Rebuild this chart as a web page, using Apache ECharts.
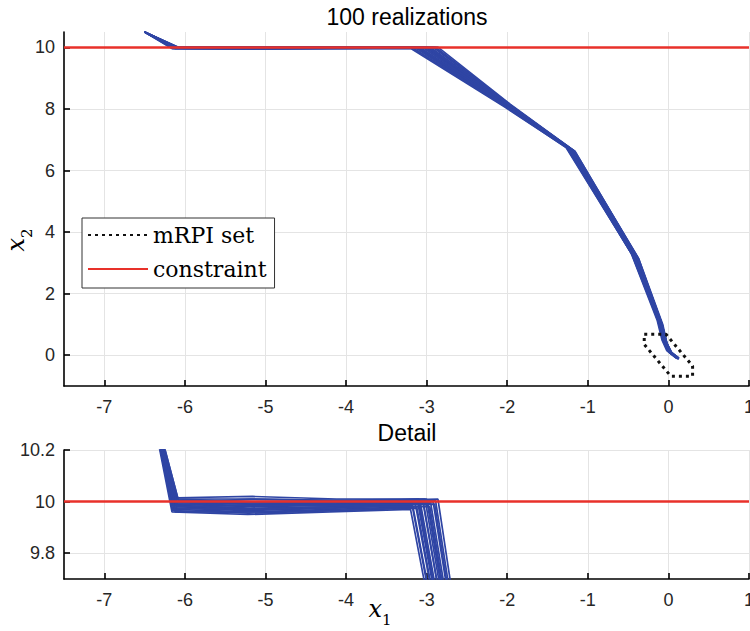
<!DOCTYPE html>
<html>
<head>
<meta charset="utf-8">
<script src="https://cdn.jsdelivr.net/npm/echarts@6/dist/echarts.min.js"></script>
<style>html,body{margin:0;padding:0;background:#fff}#chart{width:750px;height:631px}</style>
</head>
<body>
<div id="chart"></div>
<script>
// ---- data ----
const xTicks = [-7, -6, -5, -4, -3, -2, -1, 0, 1];
const yTicksTop = [0, 2, 4, 6, 8, 10];
const yTicksDetail = [9.8, 10, 10.2];
const constraintX = [-7.5, 1];
const constraintY = [10, 10];
const mrpiX = [-0.3, -0.03, 0.3, 0.3, 0.03, -0.3, -0.3];
const mrpiY = [0.68, 0.68, -0.35, -0.68, -0.68, 0.35, 0.68];
const startPoint = [-6.5, 10.5];
// realizations (vertices after the common start point), [x1, x2]
const run01 = [[-6.16,9.96],[-5.22,9.95],[-4.20,9.96],[-3.20,9.97],[-2.03,8.06],[-1.26,6.74],[-0.45,3.26],[-0.13,1.12],[-0.07,0.48],[-0.01,0.14],[0.09,-0.07]];
const run02 = [[-6.14,9.97],[-5.20,9.96],[-4.18,9.97],[-3.17,9.98],[-2.02,8.08],[-1.24,6.72],[-0.44,3.24],[-0.12,1.10],[-0.06,0.46],[0.00,0.12],[0.10,-0.09]];
const run03 = [[-6.13,9.98],[-5.19,9.97],[-4.16,9.98],[-3.14,9.99],[-2.01,8.09],[-1.23,6.70],[-0.43,3.22],[-0.11,1.08],[-0.05,0.45],[0.01,0.11],[0.11,-0.10]];
const run04 = [[-6.12,9.99],[-5.18,9.98],[-4.15,9.985],[-3.11,9.995],[-2.00,8.10],[-1.22,6.69],[-0.42,3.21],[-0.11,1.07],[-0.05,0.44],[0.01,0.10],[0.11,-0.11]];
const run05 = [[-6.11,10.00],[-5.18,9.99],[-4.14,9.99],[-3.08,10.00],[-2.00,8.11],[-1.21,6.68],[-0.41,3.20],[-0.10,1.06],[-0.04,0.43],[0.02,0.09],[0.12,-0.12]];
const run06 = [[-6.10,10.01],[-5.17,10.00],[-4.13,10.00],[-3.05,10.005],[-1.99,8.12],[-1.20,6.67],[-0.40,3.19],[-0.10,1.05],[-0.04,0.42],[0.02,0.08],[0.12,-0.12]];
const run07 = [[-6.09,10.015],[-5.16,10.02],[-4.12,10.01],[-3.02,10.01],[-1.99,8.12],[-1.19,6.66],[-0.39,3.18],[-0.09,1.04],[-0.03,0.41],[0.03,0.08],[0.13,-0.13]];
const run08 = [[-6.12,9.975],[-5.20,9.965],[-4.14,9.975],[-2.98,9.99],[-1.98,8.13],[-1.19,6.65],[-0.39,3.17],[-0.09,1.03],[-0.03,0.41],[0.03,0.09],[0.12,-0.11]];
const run09 = [[-6.11,9.985],[-5.19,9.975],[-4.13,9.98],[-2.95,9.995],[-1.98,8.14],[-1.18,6.64],[-0.38,3.16],[-0.08,1.02],[-0.03,0.40],[0.03,0.10],[0.12,-0.10]];
const run10 = [[-6.10,9.99],[-5.18,9.985],[-4.12,9.99],[-2.92,10.00],[-1.97,8.14],[-1.17,6.63],[-0.38,3.15],[-0.08,1.01],[-0.02,0.40],[0.03,0.10],[0.13,-0.09]];
const run11 = [[-6.09,9.995],[-5.17,9.99],[-4.11,9.995],[-2.89,10.005],[-1.97,8.15],[-1.17,6.62],[-0.37,3.14],[-0.08,1.00],[-0.02,0.39],[0.04,0.09],[0.13,-0.10]];
const run12 = [[-6.08,10.005],[-5.16,10.00],[-4.10,10.00],[-2.86,10.01],[-1.96,8.15],[-1.16,6.62],[-0.37,3.14],[-0.07,1.00],[-0.02,0.39],[0.04,0.08],[0.13,-0.11]];
const run13 = [[-6.15,9.965],[-5.21,9.955],[-4.17,9.965],[-3.12,9.975],[-2.01,8.07],[-1.25,6.76],[-0.46,3.30],[-0.14,1.14],[-0.08,0.50],[-0.02,0.15],[0.08,-0.06]];
const run14 = [[-6.13,9.995],[-5.19,10.01],[-4.16,10.005],[-3.00,10.01],[-1.99,8.11],[-1.21,6.69],[-0.41,3.20],[-0.10,1.06],[-0.04,0.44],[0.02,0.11],[0.11,-0.10]];
const run15 = [[-6.14,9.985],[-5.21,9.97],[-4.19,9.975],[-3.18,9.985],[-2.02,8.07],[-1.27,6.75],[-0.45,3.27],[-0.12,1.11],[-0.06,0.47],[0.00,0.13],[0.10,-0.08]];
const run16 = [[-6.12,9.96],[-5.18,9.96],[-4.14,9.965],[-3.09,9.98],[-2.00,8.09],[-1.22,6.71],[-0.42,3.22],[-0.11,1.08],[-0.05,0.45],[0.01,0.11],[0.11,-0.11]];
const run17 = [[-6.11,10.01],[-5.17,10.01],[-4.13,10.005],[-3.04,9.995],[-1.99,8.11],[-1.20,6.68],[-0.40,3.20],[-0.10,1.05],[-0.04,0.43],[0.02,0.10],[0.12,-0.11]];
const run18 = [[-6.10,9.975],[-5.16,9.97],[-4.11,9.98],[-2.96,9.98],[-1.98,8.12],[-1.18,6.65],[-0.39,3.16],[-0.09,1.03],[-0.03,0.41],[0.03,0.09],[0.12,-0.10]];
const run19 = [[-6.09,9.98],[-5.15,9.985],[-4.10,9.985],[-2.90,9.99],[-1.97,8.13],[-1.16,6.63],[-0.38,3.15],[-0.08,1.02],[-0.02,0.40],[0.03,0.10],[0.13,-0.10]];
const run20 = [[-6.13,10.00],[-5.19,9.995],[-4.15,9.995],[-3.10,10.01],[-2.01,8.10],[-1.23,6.71],[-0.43,3.23],[-0.11,1.09],[-0.05,0.45],[0.01,0.12],[0.10,-0.09]];
const runs = [run01, run02, run03, run04, run05, run06, run07, run08, run09, run10,
              run11, run12, run13, run14, run15, run16, run17, run18, run19, run20];

// ---- styles ----
const blue = '#2f45a4';
const red = '#e8312a';
const gridColor = '#e4e4e4';
const tickFont = 'Liberation Sans, Arial, sans-serif';
const serif = 'DejaVu Serif, serif';

const zip = (xs, ys) => xs.map((x, i) => [x, ys[i]]);

function makeXAxis(gridIndex) {
  return {
    type: 'value', gridIndex, min: -7.5, max: 1,
    axisLine: { show: true, onZero: false, lineStyle: { color: '#000', width: 1.6 } },
    axisTick: { show: true, inside: true, length: 6, customValues: xTicks, lineStyle: { color: '#000', width: 1.6 } },
    axisLabel: { customValues: xTicks, fontSize: 18, color: '#262626', fontFamily: tickFont, margin: 12 },
    splitLine: { show: true, lineStyle: { color: gridColor, width: 1 } }
  };
}
function makeYAxis(gridIndex, min, max, ticks) {
  return {
    type: 'value', gridIndex, min, max,
    axisLine: { show: true, onZero: false, lineStyle: { color: '#000', width: 1.6 } },
    axisTick: { show: true, inside: true, length: 6, customValues: ticks, lineStyle: { color: '#000', width: 1.6 } },
    axisLabel: { customValues: ticks, fontSize: 18, color: '#262626', fontFamily: tickFont, margin: 9,
      formatter: v => String(Math.round(v * 10) / 10) },
    splitLine: { show: true, lineStyle: { color: gridColor, width: 1 } }
  };
}

const series = [];
runs.forEach((r, i) => {
  const pts = [startPoint].concat(r);
  [0, 1].forEach(g => {
    series.push({
      type: 'line', name: 'run' + (i + 1), xAxisIndex: g, yAxisIndex: g,
      data: pts, symbol: 'none', silent: true, clip: true, z: 2,
      lineStyle: { color: blue, width: 1.7 }
    });
  });
});
[0, 1].forEach(g => {
  series.push({
    type: 'line', name: 'constraint', xAxisIndex: g, yAxisIndex: g,
    data: zip(constraintX, constraintY), symbol: 'none', silent: true, clip: true, z: 4,
    itemStyle: { color: red }, lineStyle: { color: red, width: 2.5 }
  });
});
series.push({
  type: 'line', name: 'mRPI set', xAxisIndex: 0, yAxisIndex: 0,
  data: zip(mrpiX, mrpiY), symbol: 'none', silent: true, clip: true, z: 5,
  itemStyle: { color: '#111' }, lineStyle: { color: '#111', width: 3, type: [3, 4] }
});

const option = {
  animation: false,
  backgroundColor: '#fff',
  grid: [
    { left: 64, right: 1, top: 32, height: 354, outerBoundsMode: 'none', containLabel: false },
    { left: 64, right: 1, top: 450, height: 129, outerBoundsMode: 'none', containLabel: false }
  ],
  xAxis: [makeXAxis(0), makeXAxis(1)],
  yAxis: [makeYAxis(0, -1, 10.5, yTicksTop), makeYAxis(1, 9.7, 10.2, yTicksDetail)],
  legend: {
    data: [
      { name: 'mRPI set', itemStyle: { opacity: 0 } },
      { name: 'constraint', itemStyle: { opacity: 0 } }
    ],
    orient: 'vertical', left: 82, top: 218,
    itemWidth: 60, itemHeight: 14, itemGap: 12,
    padding: [6, 8, 8, 5],
    backgroundColor: '#fff', borderColor: '#333', borderWidth: 1, borderRadius: 0,
    textStyle: { fontFamily: serif, fontSize: 22, color: '#000' },
    selectedMode: false, z: 10
  },
  graphic: [
    { type: 'text', x: 407, y: 17, style: { text: '100 realizations', fontSize: 23, fontFamily: tickFont, fill: '#000', align: 'center', verticalAlign: 'middle' } },
    { type: 'text', x: 407, y: 433, style: { text: 'Detail', fontSize: 23, fontFamily: tickFont, fill: '#000', align: 'center', verticalAlign: 'middle' } },
    { type: 'text', x: 19, y: 240, rotation: Math.PI / 2,
      style: { text: '{i|x}{s|2}', align: 'center', verticalAlign: 'middle',
        rich: { i: { fontFamily: serif, fontStyle: 'italic', fontSize: 24, fill: '#000', verticalAlign: 'bottom', padding: [0, 0, 6, 0] },
                s: { fontFamily: serif, fontSize: 15, fill: '#000', verticalAlign: 'bottom' } } } },
    { type: 'text', x: 380, y: 612,
      style: { text: '{i|x}{s|1}', align: 'center', verticalAlign: 'middle',
        rich: { i: { fontFamily: serif, fontStyle: 'italic', fontSize: 24, fill: '#000', verticalAlign: 'bottom', padding: [0, 0, 6, 0] },
                s: { fontFamily: serif, fontSize: 15, fill: '#000', verticalAlign: 'bottom' } } } }
  ],
  series
};

const chart = echarts.init(document.getElementById('chart'), null, { renderer: 'svg' });
chart.setOption(option);
</script>
</body>
</html>
